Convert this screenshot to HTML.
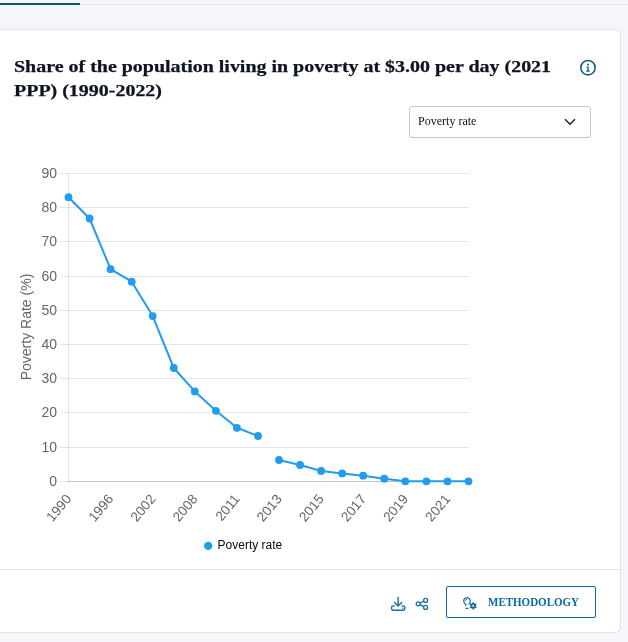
<!DOCTYPE html>
<html lang="en">
<head>
<meta charset="utf-8">
<title>Poverty chart</title>
<style>
html,body{margin:0;padding:0}
body{width:628px;height:642px;overflow:hidden;background:#f4f6f9;position:relative;font-family:"Liberation Serif","Times New Roman",serif;color:#111}
.topline{position:absolute;left:0;top:4px;width:628px;height:1px;background:#e3e6ea}
.topbar{position:absolute;left:0;top:3px;width:80px;height:2px;background:#0b5577}
.card{position:absolute;box-sizing:border-box;left:-20px;top:29px;width:641px;height:604px;background:#fff;border-radius:6px;border:1px solid #e1e3e6}
h2{position:absolute;left:14px;top:55.3px;width:477px;margin:0;font-size:17px;line-height:24px;font-weight:bold;color:#0e1420;-webkit-text-stroke:0.25px #0e1420;transform:scaleX(1.174);transform-origin:0 0}
.info{position:absolute;left:579px;top:59px;width:18px;height:18px}
.select{position:absolute;left:409px;top:106px;width:180px;height:30px;border:1px solid #c6c6c6;border-radius:3px;background:#fff;font-size:13px;line-height:30px;color:#111}
.select span{position:absolute;left:7.6px;top:-0.7px;white-space:nowrap;transform:scaleX(0.925);transform-origin:0 0}
.select svg{position:absolute;left:153.8px;top:11.2px}
.chart{position:absolute;left:0;top:150px}
.sep{position:absolute;left:0;top:569px;width:620px;height:1px;background:#e2e2e2}
.btn{position:absolute;left:446px;top:586px;width:148px;height:30px;border:1px solid #0b6aa8;border-radius:2px;background:#fff;color:#0b6aa8;font-weight:bold;font-size:11px;line-height:30px}
.btn span{position:absolute;left:40.5px;top:0;white-space:nowrap;font-size:11.5px;transform:scaleX(0.956);transform-origin:0 0}
.btn svg{position:absolute;left:15.4px;top:9.1px}
.ic{position:absolute}
</style>
</head>
<body>
<div class="topline"></div>
<div class="topbar"></div>
<div class="card"></div>
<h2>Share of the population living in poverty at $3.00 per day (2021 PPP) (1990-2022)</h2>
<svg class="info" viewBox="0 0 18 18"><circle cx="9" cy="8.7" r="7.2" fill="none" stroke="#1b5f80" stroke-width="1.6"/><circle cx="9" cy="5.4" r="1" fill="#1b5f80"/><path d="M7.6 7.6h2.1v4h1v1.1H7.2v-1.1h1.1V8.7H7.6z" fill="#1b5f80"/></svg>
<div class="select"><span>Poverty rate</span><svg width="12" height="8" viewBox="0 0 12 8"><path d="M1 1.2l5 5 5-5" fill="none" stroke="#222" stroke-width="1.5"/></svg></div>
<svg class="chart" width="628" height="420" viewBox="0 150 628 420" font-family="'Liberation Sans', Arial, sans-serif" font-size="14">
<line x1="60" x2="469" y1="481.5" y2="481.5" stroke="rgba(0,0,0,0.1)" stroke-width="1"/>
<text x="57" y="486.1" text-anchor="end" fill="#666">0</text>
<line x1="60" x2="469" y1="447.5" y2="447.5" stroke="rgba(0,0,0,0.1)" stroke-width="1"/>
<text x="57" y="452.1" text-anchor="end" fill="#666">10</text>
<line x1="60" x2="469" y1="412.5" y2="412.5" stroke="rgba(0,0,0,0.1)" stroke-width="1"/>
<text x="57" y="417.1" text-anchor="end" fill="#666">20</text>
<line x1="60" x2="469" y1="378.5" y2="378.5" stroke="rgba(0,0,0,0.1)" stroke-width="1"/>
<text x="57" y="383.1" text-anchor="end" fill="#666">30</text>
<line x1="60" x2="469" y1="344.5" y2="344.5" stroke="rgba(0,0,0,0.1)" stroke-width="1"/>
<text x="57" y="349.1" text-anchor="end" fill="#666">40</text>
<line x1="60" x2="469" y1="310.5" y2="310.5" stroke="rgba(0,0,0,0.1)" stroke-width="1"/>
<text x="57" y="315.1" text-anchor="end" fill="#666">50</text>
<line x1="60" x2="469" y1="276.5" y2="276.5" stroke="rgba(0,0,0,0.1)" stroke-width="1"/>
<text x="57" y="281.1" text-anchor="end" fill="#666">60</text>
<line x1="60" x2="469" y1="241.5" y2="241.5" stroke="rgba(0,0,0,0.1)" stroke-width="1"/>
<text x="57" y="246.1" text-anchor="end" fill="#666">70</text>
<line x1="60" x2="469" y1="207.5" y2="207.5" stroke="rgba(0,0,0,0.1)" stroke-width="1"/>
<text x="57" y="212.1" text-anchor="end" fill="#666">80</text>
<line x1="60" x2="469" y1="173.5" y2="173.5" stroke="rgba(0,0,0,0.1)" stroke-width="1"/>
<text x="57" y="178.1" text-anchor="end" fill="#666">90</text>
<line x1="68" x2="469" y1="481.5" y2="481.5" stroke="rgba(0,0,0,0.15)" stroke-width="1"/>
<line x1="68.5" x2="68.5" y1="173" y2="482" stroke="rgba(0,0,0,0.1)" stroke-width="1"/>
<text transform="translate(30.5,327) rotate(-90)" text-anchor="middle" fill="#666">Poverty Rate (%)</text>
<text transform="translate(69.3,497) rotate(-50)" text-anchor="end" dominant-baseline="middle" fill="#666" font-size="13.6">1990</text>
<text transform="translate(111.4,497) rotate(-50)" text-anchor="end" dominant-baseline="middle" fill="#666" font-size="13.6">1996</text>
<text transform="translate(153.5,497) rotate(-50)" text-anchor="end" dominant-baseline="middle" fill="#666" font-size="13.6">2002</text>
<text transform="translate(195.6,497) rotate(-50)" text-anchor="end" dominant-baseline="middle" fill="#666" font-size="13.6">2008</text>
<text transform="translate(237.7,497) rotate(-50)" text-anchor="end" dominant-baseline="middle" fill="#666" font-size="13.6">2011</text>
<text transform="translate(279.8,497) rotate(-50)" text-anchor="end" dominant-baseline="middle" fill="#666" font-size="13.6">2013</text>
<text transform="translate(321.9,497) rotate(-50)" text-anchor="end" dominant-baseline="middle" fill="#666" font-size="13.6">2015</text>
<text transform="translate(364.0,497) rotate(-50)" text-anchor="end" dominant-baseline="middle" fill="#666" font-size="13.6">2017</text>
<text transform="translate(406.1,497) rotate(-50)" text-anchor="end" dominant-baseline="middle" fill="#666" font-size="13.6">2019</text>
<text transform="translate(448.3,497) rotate(-50)" text-anchor="end" dominant-baseline="middle" fill="#666" font-size="13.6">2021</text>
<path d="M68.5,197.2 L89.6,218.5 L110.6,269.2 L131.7,281.7 L152.7,316.1 L173.8,368.0 L194.8,391.4 L215.9,410.8 L236.9,427.8 L258.0,436.0" fill="none" stroke="#229cee" stroke-width="2" stroke-linejoin="round"/>
<path d="M279.0,460.0 L300.1,465.0 L321.1,471.0 L342.2,473.4 L363.2,475.7 L384.3,478.7 L405.3,481.3 L426.4,481.3 L447.5,481.3 L468.5,481.3" fill="none" stroke="#229cee" stroke-width="2" stroke-linejoin="round"/>
<circle cx="68.5" cy="197.2" r="3.9" fill="#229cee"/>
<circle cx="89.6" cy="218.5" r="3.9" fill="#229cee"/>
<circle cx="110.6" cy="269.2" r="3.9" fill="#229cee"/>
<circle cx="131.7" cy="281.7" r="3.9" fill="#229cee"/>
<circle cx="152.7" cy="316.1" r="3.9" fill="#229cee"/>
<circle cx="173.8" cy="368.0" r="3.9" fill="#229cee"/>
<circle cx="194.8" cy="391.4" r="3.9" fill="#229cee"/>
<circle cx="215.9" cy="410.8" r="3.9" fill="#229cee"/>
<circle cx="236.9" cy="427.8" r="3.9" fill="#229cee"/>
<circle cx="258.0" cy="436.0" r="3.9" fill="#229cee"/>
<circle cx="279.0" cy="460.0" r="3.9" fill="#229cee"/>
<circle cx="300.1" cy="465.0" r="3.9" fill="#229cee"/>
<circle cx="321.1" cy="471.0" r="3.9" fill="#229cee"/>
<circle cx="342.2" cy="473.4" r="3.9" fill="#229cee"/>
<circle cx="363.2" cy="475.7" r="3.9" fill="#229cee"/>
<circle cx="384.3" cy="478.7" r="3.9" fill="#229cee"/>
<circle cx="405.3" cy="481.3" r="3.9" fill="#229cee"/>
<circle cx="426.4" cy="481.3" r="3.9" fill="#229cee"/>
<circle cx="447.5" cy="481.3" r="3.9" fill="#229cee"/>
<circle cx="468.5" cy="481.3" r="3.9" fill="#229cee"/>
<circle cx="208.2" cy="545.9" r="4.2" fill="#229cee"/>
<text x="217.6" y="549" fill="#0a0a0a" font-size="12">Poverty rate</text>
</svg>
<div class="sep"></div>
<svg class="ic" style="left:389px;top:595px" width="18" height="18" viewBox="0 0 18 18" fill="none" stroke="#1a6fa3" stroke-width="1.4" stroke-linecap="round" stroke-linejoin="round"><path d="M9.1 2.2v8.2M5.6 7.5l3.5 3.4 3.5-3.4"/><path d="M5.4 10.9H4a1.4 1.4 0 0 0-1.4 1.4v1.5A1.4 1.4 0 0 0 4 15.2h10.4a1.4 1.4 0 0 0 1.4-1.4v-1.5a1.4 1.4 0 0 0-1.4-1.4h-1.4"/><path d="M13.4 13.1h0.6" stroke-width="1.1"/></svg>
<svg class="ic" style="left:414px;top:596px" width="16" height="16" viewBox="0 0 16 16" fill="none" stroke="#1a6fa3" stroke-width="1.3"><circle cx="11.6" cy="4.4" r="2"/><circle cx="4.2" cy="7.8" r="2"/><circle cx="11.6" cy="11.4" r="2"/><path d="M6 7l3.8-1.8M6 8.7l3.8 1.9"/></svg>
<div class="btn"><svg width="18" height="16" viewBox="0 0 18 16" fill="none" stroke="#1a6fa3" stroke-width="1.25" stroke-linecap="round"><path d="M7 8C7.8 7.3 8.3 6.3 8.3 5.1A3.3 3.3 0 1 0 3.2 7.8c.5.5.8 1 .8 1.8"/><path d="M3.9 12.3h2.3"/><path d="M3.5 4.5a1.8 1.8 0 0 1 1.4-1.2" stroke-width="1"/><g transform="translate(11.2 9.8)"><circle r="1.9" stroke-width="1.9"/><path d="M0-3.1v6.2M-2.7-1.55l5.4 3.1M-2.7 1.55l5.4-3.1" stroke-width="1.5"/><circle r="0.95" fill="#fff" stroke="none"/></g></svg><span>METHODOLOGY</span></div>
</body>
</html>
